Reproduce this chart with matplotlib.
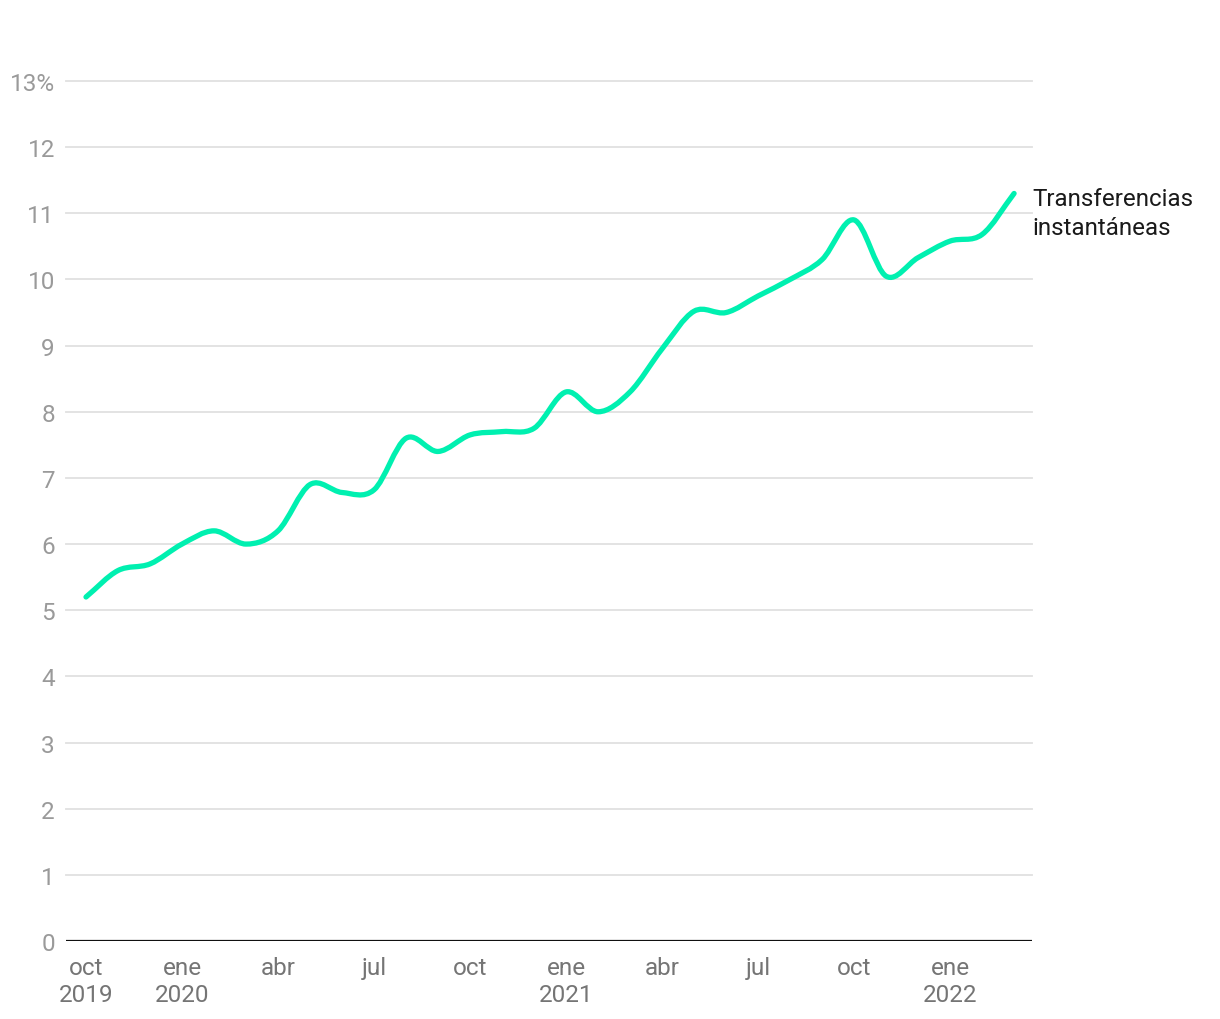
import matplotlib
matplotlib.use("Agg")
import matplotlib.pyplot as plt
import numpy as np
from matplotlib.path import Path
from matplotlib.patches import PathPatch

# monthly share (%), oct 2019 .. mar 2022
values = [5.2, 5.6, 5.7, 6.0, 6.2, 6.0, 6.2, 6.9, 6.78, 6.82,
          7.6, 7.4, 7.65, 7.7, 7.75, 8.3, 8.0, 8.3, 8.95, 9.52,
          9.5, 9.75, 10.0, 10.3, 10.9, 10.05, 10.33, 10.58, 10.68, 11.3]
tick_months = [0, 3, 6, 9, 12, 15, 18, 21, 24, 27]
tick_labels = ["oct\n2019", "ene\n2020", "abr", "jul", "oct",
               "ene\n2021", "abr", "jul", "oct", "ene\n2022"]
y_ticks = list(range(0, 14))
series_label = "Transferencias\ninstantáneas"

plt.rcParams["font.family"] = ["Roboto", "DejaVu Sans"]

LINE = "#00f0b0"
W, H = 1220, 1020
fig = plt.figure(figsize=(W / 100, H / 100), dpi=100)
ax = fig.add_axes([66 / W, 78 / H, (1032 - 66) / W, (940 - 80) / H])


def smooth_path(x, y):
    # catmull-rom style tangents -> cubic bezier path
    x = np.asarray(x, float)
    y = np.asarray(y, float)
    n = len(x)
    t = np.zeros(n)
    t[1:-1] = (y[2:] - y[:-2]) / (x[2:] - x[:-2])
    t[0] = (y[1] - y[0]) / (x[1] - x[0])
    t[-1] = (y[-1] - y[-2]) / (x[-1] - x[-2])
    verts = [(x[0], y[0])]
    codes = [Path.MOVETO]
    for i in range(n - 1):
        dx = (x[i + 1] - x[i]) / 3
        verts += [(x[i] + dx, y[i] + dx * t[i]),
                  (x[i + 1] - dx, y[i + 1] - dx * t[i + 1]),
                  (x[i + 1], y[i + 1])]
        codes += [Path.CURVE4] * 3
    return Path(verts, codes)


months = np.arange(len(values))
ax.add_patch(PathPatch(smooth_path(months, values), fill=False, edgecolor=LINE,
                       lw=3.8, capstyle="round", joinstyle="round", zorder=4,
                       clip_on=False))

ax.set_xlim(-0.625, 29.56)
ax.set_ylim(0, 13)

for v in y_ticks[1:]:
    ax.axhline(v, color="#e0e0e0", lw=1.3, zorder=1, clip_on=False)
ax.axhline(0, color="#111111", lw=1.6, zorder=3)

for sp in ax.spines.values():
    sp.set_visible(False)

ax.set_yticks(y_ticks)
ax.set_yticklabels([f"{v}%" if v == 13 else str(v) for v in y_ticks])
ax.set_xticks(tick_months)
ax.set_xticklabels(tick_labels, linespacing=1.2)
ax.tick_params(axis="y", length=0, pad=8, labelsize=17.5, labelcolor="#9a9a9a")
ax.tick_params(axis="x", length=0, pad=11, labelsize=17.5, labelcolor="#757575")
for lab in ax.get_yticklabels():
    lab.set_y(lab.get_position()[1])
    lab.set_verticalalignment("center_baseline")

ax.annotate(series_label, xy=(months[-1], values[-1]), xytext=(13, -14),
            textcoords="offset points", fontsize=17.4, color="#1a1a1a",
            ha="left", va="center", linespacing=1.3, annotation_clip=False)

fig.savefig("out.png", dpi=100)
